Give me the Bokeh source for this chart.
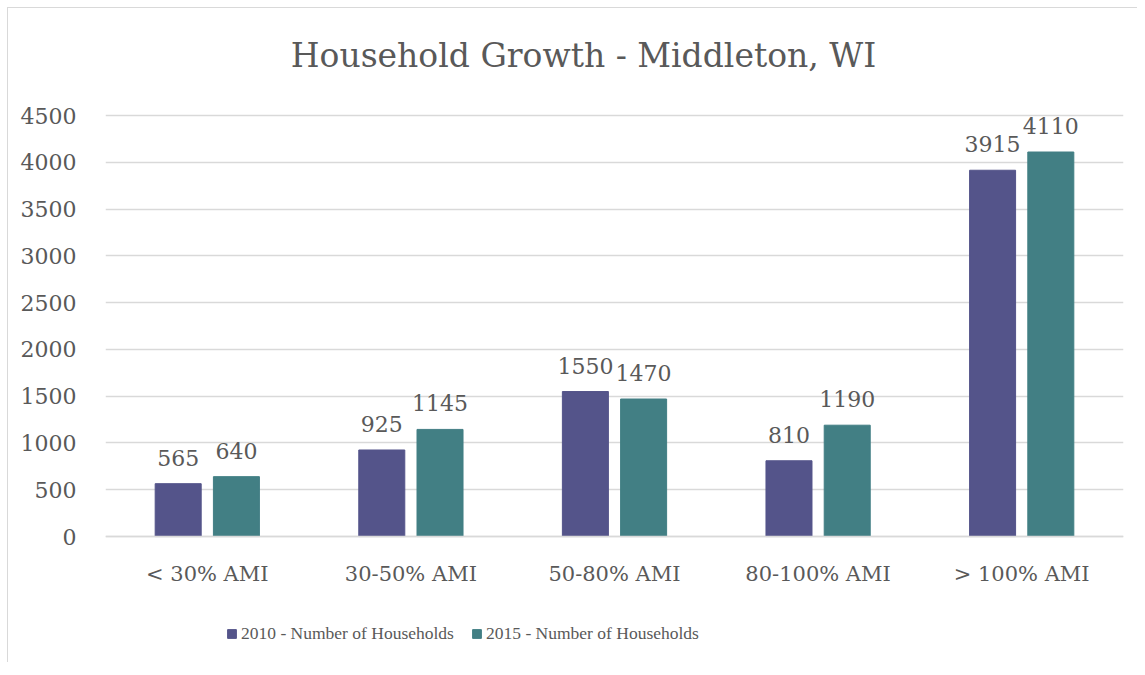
from bokeh.plotting import figure
from bokeh.models import ColumnDataSource, FactorRange, Range1d, LabelSet, Label, Legend, LegendItem
from bokeh.transform import dodge
from bokeh.core.properties import value
from bokeh.embed import file_html
from bokeh.resources import INLINE

title_text = "Household Growth - Middleton, WI"
categories = ["< 30% AMI", "30-50% AMI", "50-80% AMI", "80-100% AMI", "> 100% AMI"]
hh_2010 = [565, 925, 1550, 810, 3915]
hh_2015 = [640, 1145, 1470, 1190, 4110]
series_names = ["2010 - Number of Households", "2015 - Number of Households"]
y_ticks = [0, 500, 1000, 1500, 2000, 2500, 3000, 3500, 4000, 4500]

FONT = "DejaVu Serif"
TXT = "#595959"
C1 = "#54548A"
C2 = "#427F84"

src = ColumnDataSource(dict(cat=categories, a=hh_2010, b=hh_2015,
                            la=[str(v) for v in hh_2010], lb=[str(v) for v in hh_2015]))

# frame extends above the axis max (title) and below zero (legend)
p = figure(x_range=FactorRange(*categories), y_range=Range1d(-1325, 5569),
           frame_width=1018, frame_height=645,
           min_border_left=97, min_border_right=14, min_border_top=7, min_border_bottom=2,
           output_backend="svg", toolbar_location=None, title=None)
p.styles = {"border-left": "1px solid #D9D9D9", "border-top": "1px solid #D9D9D9",
            "margin-left": "7px", "margin-top": "7px"}

# title centred over the chart (x = middle of the categorical range)
p.add_layout(Label(x=len(categories) / 2, y=5141, x_offset=-31, text=title_text,
                   text_align="center", text_baseline="middle",
                   text_font=FONT, text_font_size="33px", text_color=TXT))

r1 = p.vbar(x=dodge("cat", -0.143, range=p.x_range), top="a", width=0.226, source=src,
            fill_color=C1, line_color=C1)
r2 = p.vbar(x=dodge("cat", 0.143, range=p.x_range), top="b", width=0.226, source=src,
            fill_color=C2, line_color=C2)

for col, lab, off in (("a", "la", -0.143), ("b", "lb", 0.143)):
    p.add_layout(LabelSet(x=dodge("cat", off, range=p.x_range), y=col, text=lab, source=src,
                          text_align="center", text_baseline="middle", y_offset=26,
                          text_font=value(FONT), text_font_size="22px", text_color=TXT))

p.xgrid.grid_line_color = None
p.ygrid.grid_line_color = "#D9D9D9"
p.ygrid.grid_line_width = 1.3
p.ygrid.ticker = y_ticks
p.yaxis.ticker = y_ticks
p.yaxis.axis_line_color = None
p.yaxis.major_tick_line_color = None
p.yaxis.minor_tick_line_color = None
p.yaxis.major_label_standoff = 23
p.yaxis.major_label_text_font_size = "22px"
p.xaxis.fixed_location = 0
p.xaxis.axis_line_color = "#D9D9D9"
p.xaxis.axis_line_width = 1.3
p.xaxis.major_tick_line_color = None
p.xaxis.minor_tick_line_color = None
p.xaxis.major_label_standoff = 19
p.xaxis.major_label_text_font_size = "21px"
for ax in (p.xaxis, p.yaxis):
    ax.major_label_text_font = FONT
    ax.major_label_text_color = TXT
p.outline_line_color = None

for r, name, lx in ((r1, series_names[0], 121), (r2, series_names[1], 366)):
    lg = Legend(items=[LegendItem(label=name, renderers=[r])],
                orientation="horizontal", location=(lx, 16),
                label_text_font="Liberation Serif", label_text_font_size="17.5px",
                label_text_color=TXT, label_height=20,
                glyph_width=11, glyph_height=11, label_standoff=4,
                padding=0, margin=0, border_line_color=None, background_fill_alpha=0)
    p.add_layout(lg)

open("out.html", "w").write(file_html(p, INLINE))
